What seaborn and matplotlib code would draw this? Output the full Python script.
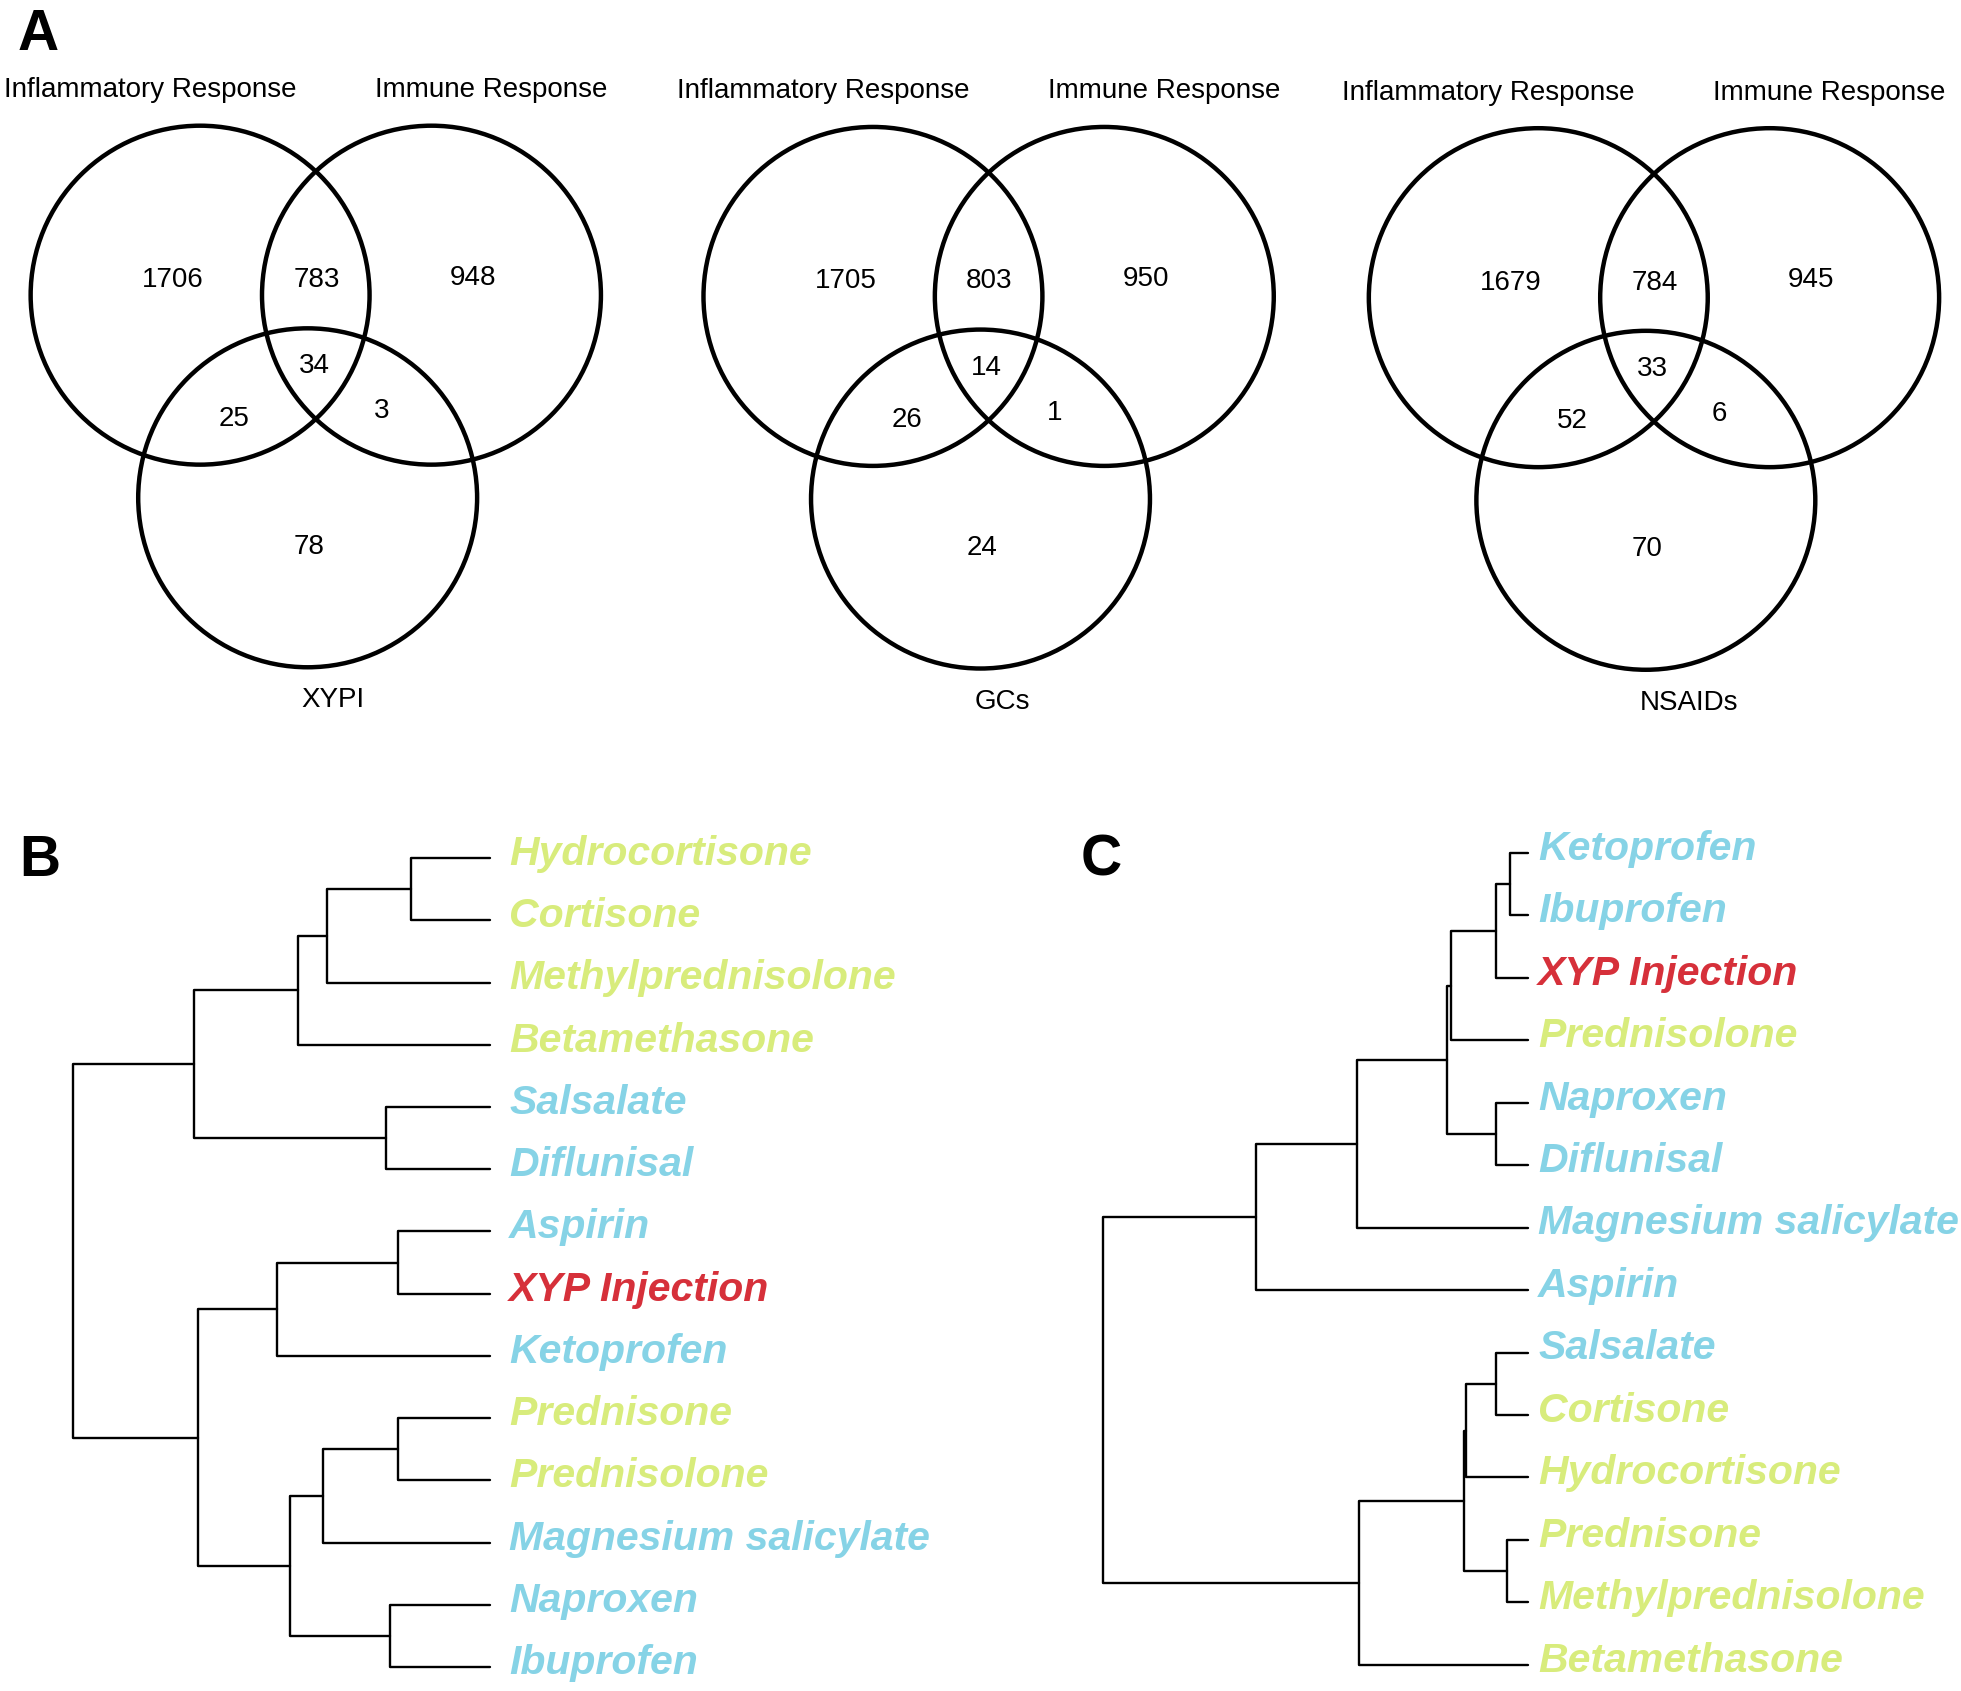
import numpy as np
import pandas as pd
import matplotlib
matplotlib.use("Agg")
import matplotlib.pyplot as plt
from matplotlib.patches import Circle
import seaborn as sns

sns.set_theme(style="white")
plt.rcParams['font.family'] = ['Liberation Sans', 'DejaVu Sans']
plt.rcParams['text.color'] = 'black'

# ---- Venn data (panel A) ----
set_names = ["Inflammatory Response", "Immune Response"]
third_sets = ["XYPI", "GCs", "NSAIDs"]
# region order: inflam only, inflam&immune, immune only, all three,
#               inflam&third, immune&third, third only
xypi_counts = [1706, 783, 948, 34, 25, 3, 78]
gcs_counts = [1705, 803, 950, 14, 26, 1, 24]
nsaids_counts = [1679, 784, 945, 33, 52, 6, 70]

# ---- Dendrogram data (panels B and C) ----
gc_drugs = ["Hydrocortisone", "Cortisone", "Methylprednisolone", "Betamethasone",
            "Prednisone", "Prednisolone"]
nsaid_drugs = ["Salsalate", "Diflunisal", "Aspirin", "Ketoprofen",
               "Magnesium salicylate", "Naproxen", "Ibuprofen"]
herbal = ["XYP Injection"]

leaves_b = ["Hydrocortisone", "Cortisone", "Methylprednisolone", "Betamethasone",
            "Salsalate", "Diflunisal", "Aspirin", "XYP Injection", "Ketoprofen",
            "Prednisone", "Prednisolone", "Magnesium salicylate", "Naproxen", "Ibuprofen"]
# (child, child, height); ints refer to earlier merges
merges_b = [("Hydrocortisone", "Cortisone", 0.19),
            (0, "Methylprednisolone", 0.39),
            (1, "Betamethasone", 0.46),
            ("Salsalate", "Diflunisal", 0.25),
            (2, 3, 0.71),
            ("Aspirin", "XYP Injection", 0.22),
            (5, "Ketoprofen", 0.51),
            ("Prednisone", "Prednisolone", 0.22),
            (7, "Magnesium salicylate", 0.40),
            ("Naproxen", "Ibuprofen", 0.24),
            (8, 9, 0.48),
            (6, 10, 0.70),
            (4, 11, 1.00)]

leaves_c = ["Ketoprofen", "Ibuprofen", "XYP Injection", "Prednisolone", "Naproxen",
            "Diflunisal", "Magnesium salicylate", "Aspirin", "Salsalate", "Cortisone",
            "Hydrocortisone", "Prednisone", "Methylprednisolone", "Betamethasone"]
merges_c = [("Ketoprofen", "Ibuprofen", 0.044),
            (0, "XYP Injection", 0.076),
            (1, "Prednisolone", 0.182),
            ("Naproxen", "Diflunisal", 0.076),
            (2, 3, 0.191),
            (4, "Magnesium salicylate", 0.403),
            (5, "Aspirin", 0.641),
            ("Salsalate", "Cortisone", 0.076),
            (7, "Hydrocortisone", 0.147),
            ("Prednisone", "Methylprednisolone", 0.050),
            (8, 9, 0.150),
            (10, "Betamethasone", 0.397),
            (6, 11, 1.00)]

GREEN = "#d8ec7c"
BLUE = "#86d3e6"
RED = "#d6303a"


def label_color(name):
    if name in herbal:
        return RED
    if name in gc_drugs:
        return GREEN
    return BLUE


def tree_segments(leaves, merges):
    pos = {name: (i, 0.0) for i, name in enumerate(leaves)}
    rows = []
    for k, (a, b, h) in enumerate(merges):
        ya, ha = pos[a]
        yb, hb = pos[b]
        for x, y in [(ha, ya), (h, ya), (h, yb), (hb, yb)]:
            rows.append({"link": k, "height": x, "leaf": y})
        pos[k] = ((ya + yb) / 2, h)
    return pd.DataFrame(rows)


W, H = 1568, 1352  # layout units (figure scaled uniformly to 1961x1691)
fig = plt.figure(figsize=(19.61, 16.91), dpi=100)
bg = fig.add_axes([0, 0, 1, 1])
bg.set_xlim(0, W)
bg.set_ylim(H, 0)
bg.axis('off')

# ---- Panel A: three venn diagrams ----
venn_origins = [(160, 236), (698, 237), (1230, 238)]
circle_offsets = [(0, 0), (185, 0), (86, 162)]
r = 135.5
count_offsets = [(-22, -12), (93, -12), (218, -14), (91, 57), (27, 99), (145, 93), (87, 201)]
all_counts = [xypi_counts, gcs_counts, nsaids_counts]

for (ox, oy), third, counts in zip(venn_origins, third_sets, all_counts):
    for dx, dy in circle_offsets:
        bg.add_patch(Circle((ox + dx, oy + dy), r, fill=False, lw=3.2, ec='black'))
    for (dx, dy), n in zip(count_offsets, counts):
        bg.text(ox + dx, oy + dy, str(n), ha='center', va='center', fontsize=20)
    bg.text(ox - 40, oy - 164, set_names[0], ha='center', va='center', fontsize=20)
    bg.text(ox + 233, oy - 164, set_names[1], ha='center', va='center', fontsize=20)
    bg.text(ox + 81, oy + 324, third, ha='left', va='center', fontsize=20)

bg.text(14, 28, "A", ha='left', va='center', fontsize=41, fontweight='bold')
bg.text(15, 688, "B", ha='left', va='center', fontsize=41, fontweight='bold')
bg.text(864, 688, "C", ha='left', va='center', fontsize=41, fontweight='bold')


# ---- Panels B and C: dendrograms ----
def draw_tree(leaves, merges, x_root, x_tip, y_top, y_bot, gap):
    ax = fig.add_axes([x_root / W, 1 - y_bot / H, (x_tip - x_root) / W, (y_bot - y_top) / H])
    seg = tree_segments(leaves, merges)
    sns.lineplot(data=seg, x="height", y="leaf", units="link", estimator=None,
                 sort=False, color="black", lw=1.7, legend=False, ax=ax)
    for ln in ax.lines:
        ln.set_clip_on(False)
    ax.set_xlim(1.0, 0.0)
    ax.set_ylim(len(leaves) - 1, 0)
    ax.axis('off')
    for i, name in enumerate(leaves):
        ax.annotate(name, xy=(0, i), xytext=(gap, 3), textcoords='offset points',
                    ha='left', va='center', fontsize=29.5, fontweight='bold',
                    fontstyle='italic', color=label_color(name))
    return ax


draw_tree(leaves_b, merges_b, 58, 392, 686, 1333, 13.5)
draw_tree(leaves_c, merges_c, 882, 1222, 682, 1331, 7)

fig.savefig("out.png", dpi=100)
